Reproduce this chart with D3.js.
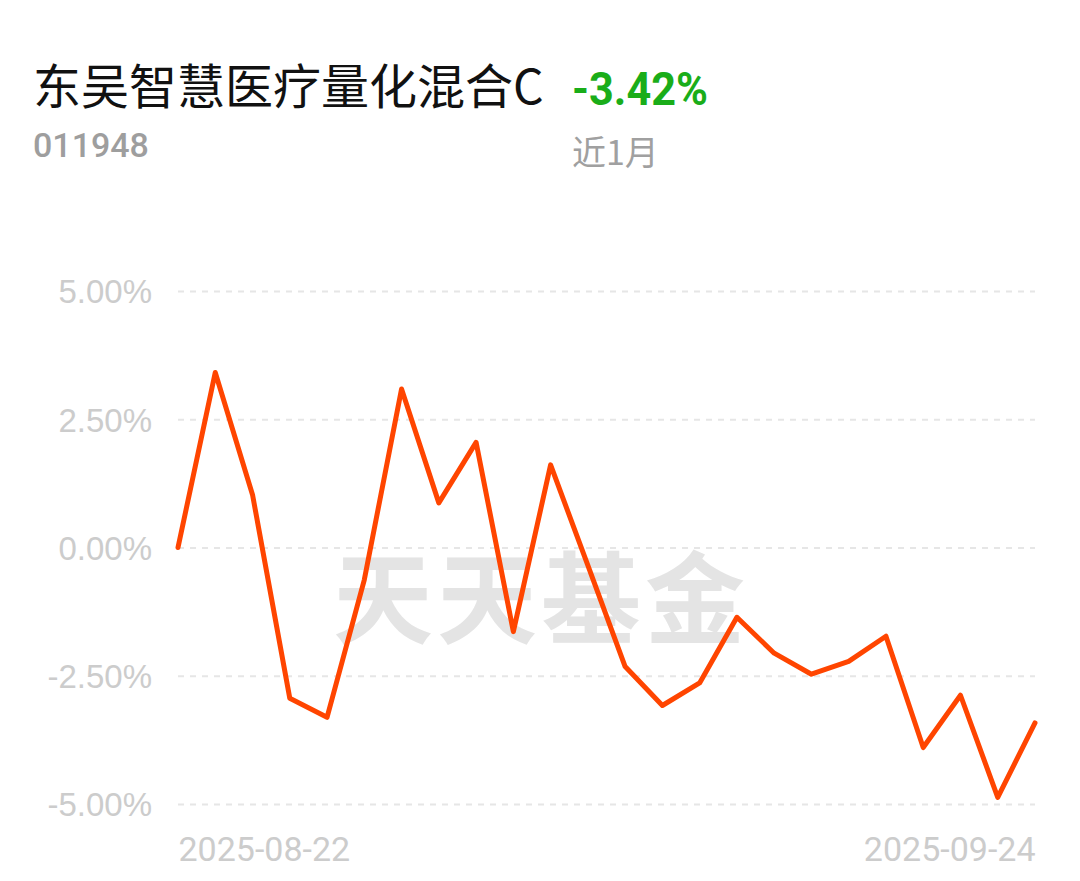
<!DOCTYPE html>
<html>
<head>
<meta charset="utf-8">
<script src="https://cdn.jsdelivr.net/npm/d3@7/dist/d3.min.js"></script>
<style>
  html, body { margin: 0; padding: 0; background: #fff; }
  svg { display: block; }
</style>
</head>
<body>
<svg id="chart" width="1080" height="881"></svg>
<script>
// ---- data ----
const fundName = "东吴智慧医疗量化混合C";
const fundCode = "011948";
const periodLabel = "近1月";
const periodReturn = "-3.42%";
const dates = ["2025-08-22","2025-08-25","2025-08-26","2025-08-27","2025-08-28","2025-08-29",
  "2025-09-01","2025-09-02","2025-09-03","2025-09-04","2025-09-05",
  "2025-09-08","2025-09-09","2025-09-10","2025-09-11","2025-09-12",
  "2025-09-15","2025-09-16","2025-09-17","2025-09-18","2025-09-19",
  "2025-09-22","2025-09-23","2025-09-24"];
const returns = [0.00, 3.41, 1.03, -2.94, -3.31, -0.63, 3.09, 0.87, 2.05, -1.64, 1.61,
  -0.35, -2.32, -3.08, -2.64, -1.36, -2.06, -2.47, -2.22, -1.73, -3.90, -2.88, -4.87, -3.42];
const yTicks = [5, 2.5, 0, -2.5, -5];
const yTickLabels = ["5.00%", "2.50%", "0.00%", "-2.50%", "-5.00%"];
const xTickLabels = ["2025-08-22", "2025-09-24"];
const watermark = "天天基金";

// ---- layout ----
const svg = d3.select("#chart");
const plotLeft = 178, plotRight = 1035, plotTop = 291, plotBottom = 804;

const x = d3.scalePoint().domain(dates).range([plotLeft, plotRight]);
const y = d3.scaleLinear().domain([-5, 5]).range([plotBottom, plotTop]);

// title block
svg.append("text").attr("x", 33).attr("y", 104)
  .attr("font-family", "'Noto Sans CJK SC', 'Noto Sans', sans-serif")
  .attr("font-size", 48).attr("fill", "#111").text(fundName);
svg.append("text").attr("x", 572).attr("y", 105)
  .attr("font-family", "Roboto, 'Liberation Sans', sans-serif")
  .attr("font-weight", 700).attr("font-size", 47).attr("fill", "#1aad19")
  .attr("textLength", 136).attr("lengthAdjust", "spacingAndGlyphs")
  .text(periodReturn);
svg.append("text").attr("x", 33).attr("y", 157)
  .attr("font-family", "Roboto, 'Liberation Sans', sans-serif")
  .attr("font-weight", 500).attr("font-size", 34).attr("fill", "#9e9e9e").text(fundCode);
svg.append("text").attr("x", 572).attr("y", 165)
  .attr("font-family", "'Noto Sans CJK SC', 'Noto Sans', sans-serif")
  .attr("font-size", 34).attr("fill", "#a0a0a0").text(periodLabel);

// watermark
svg.append("text").attr("x", 541).attr("y", 592)
  .attr("text-anchor", "middle").attr("dominant-baseline", "central")
  .attr("font-family", "'Noto Sans CJK SC', sans-serif")
  .attr("font-weight", 700).attr("font-size", 100)
  .attr("letter-spacing", 4)
  .attr("fill", "#e4e4e4").text(watermark);

// y grid + labels via axis
const yAxis = d3.axisLeft(y).tickValues(yTicks)
  .tickSize(-(plotRight - plotLeft)).tickPadding(26)
  .tickFormat((d, i) => yTickLabels[i]);
const gy = svg.append("g").attr("transform", `translate(${plotLeft},0)`).call(yAxis);
gy.select(".domain").remove();
gy.selectAll(".tick line").attr("stroke", "#e6e6e6").attr("stroke-width", 2)
  .attr("stroke-dasharray", "6,6");
gy.selectAll(".tick text").attr("fill", "#cccccc")
  .attr("font-family", "'Liberation Sans', Arial, sans-serif").attr("font-size", 33)
  .attr("dy", "0.36em");

// x labels
const xAxis = d3.axisBottom(x).tickValues(xTickLabels).tickSize(0).tickPadding(0);
const gx = svg.append("g").attr("transform", `translate(0,${plotBottom})`).call(xAxis);
gx.select(".domain").remove();
gx.selectAll(".tick text")
  .attr("fill", "#cccccc")
  .attr("font-family", "Roboto, 'Liberation Sans', sans-serif").attr("font-size", 34)
  .attr("dy", 0).attr("y", 57)
  .attr("text-anchor", (d, i) => i === 0 ? "start" : "end");

// line
const line = d3.line().x((d, i) => x(dates[i])).y(d => y(d));
svg.append("path").datum(returns)
  .attr("d", line).attr("fill", "none")
  .attr("stroke", "#ff4500").attr("stroke-width", 5)
  .attr("stroke-linejoin", "round").attr("stroke-linecap", "round");
</script>
</body>
</html>
